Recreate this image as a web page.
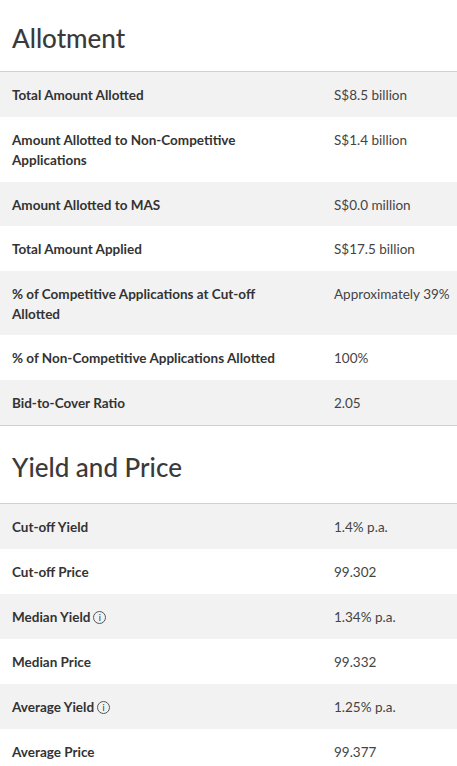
<!DOCTYPE html>
<html><head><meta charset="utf-8">
<script src="https://cdn.jsdelivr.net/npm/chart.js@4"></script>
<style>
body{margin:0;width:457px;height:766px;overflow:hidden;background:#fff;font-family:Lato,"Noto Sans",sans-serif;color:#333}
h2{margin:0;font-weight:500;font-size:26px;color:#3a3a3a;padding-left:12px;height:72px;line-height:76px;box-sizing:border-box;border-bottom:1px solid #d0d0d0}
h2.second{height:78px;line-height:82px}
table{border-collapse:collapse;width:457px}
td{vertical-align:top;font-size:13.5px;padding:0}
td.l{font-weight:bold;width:322px;padding:13px 0 0 12px;line-height:20px}
td.v{padding:13px 0 0 0;line-height:20px;color:#444}
tr.g{background:#f2f2f2}
tr.last td{border-bottom:1px solid #d0d0d0}
.i{display:inline-block;width:11px;height:11px;border:1px solid #555;border-radius:50%;font-size:9px;line-height:11px;text-align:center;font-weight:normal;vertical-align:1px;margin-left:3px}
</style></head><body>
<div id="root"></div>
<script>
const allotLabels=["Total Amount Allotted","Amount Allotted to Non-Competitive\nApplications","Amount Allotted to MAS","Total Amount Applied","% of Competitive Applications at Cut-off\nAllotted","% of Non-Competitive Applications Allotted","Bid-to-Cover Ratio"];
const allotValues=["S$8.5 billion","S$1.4 billion","S$0.0 million","S$17.5 billion","Approximately 39%","100%","2.05"];
const allotHeights=[45,65,44,45,64,45,45];
const yieldLabels=["Cut-off Yield","Cut-off Price","Median Yield","Median Price","Average Yield","Average Price"];
const yieldValues=["1.4% p.a.","99.302","1.34% p.a.","99.332","1.25% p.a.","99.377"];
const yieldInfo=[false,false,true,false,true,false];
function esc(s){return s.replace(/&/g,'&amp;').replace(/</g,'&lt;').replace(/\n/g,'<br>');}
let h='<h2>Allotment</h2><table>';
allotLabels.forEach((l,i)=>{
  h+=`<tr class="${i%2==0?'g':''}${i==allotLabels.length-1?' last':''}" style="height:${allotHeights[i]}px"><td class="l">${esc(l)}</td><td class="v">${esc(allotValues[i])}</td></tr>`;
});
h+='</table><h2 class="second">Yield and Price</h2><table>';
yieldLabels.forEach((l,i)=>{
  h+=`<tr class="${i%2==0?'g':''}" style="height:45px"><td class="l">${esc(l)}${yieldInfo[i]?'<span class="i">i</span>':''}</td><td class="v">${esc(yieldValues[i])}</td></tr>`;
});
h+='</table>';
document.getElementById('root').innerHTML=h;
</script>
</body></html>
